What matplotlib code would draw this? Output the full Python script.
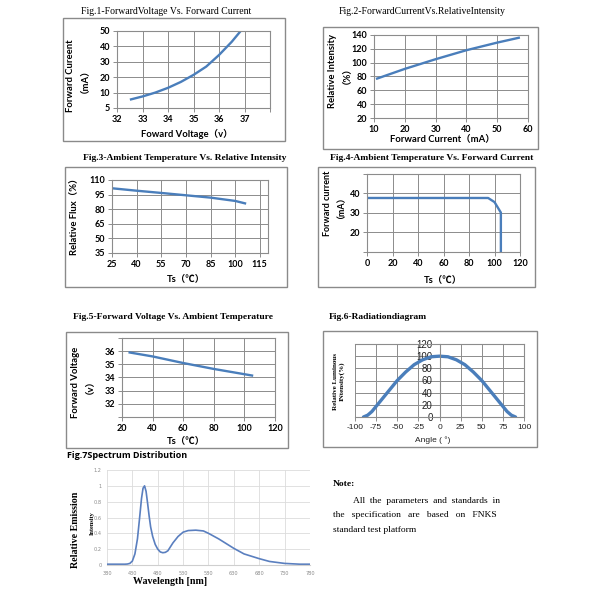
import matplotlib
matplotlib.use("Agg")
import matplotlib.pyplot as plt
from matplotlib.patches import Rectangle

# ---------------- data ----------------
fig1_voltage = [32.55, 33.0, 33.5, 34.0, 34.5, 35.0, 35.5, 36.0, 36.5, 36.85]
fig1_current = [5.6, 7.5, 10.0, 13.1, 16.9, 21.5, 26.9, 34.4, 43.0, 50.0]
fig1_xticks = [32, 33, 34, 35, 36, 37, 38]
fig1_xlabels = ["32", "33", "34", "35", "36", "37", ""]
fig1_yticks = [0, 10, 20, 30, 40, 50]
fig1_ylabels = ["5", "10", "20", "30", "40", "50"]

fig2_current = [11, 20, 30, 40, 50, 57]
fig2_intensity = [77, 91, 105, 118, 129, 136]
fig2_xticks = [10, 20, 30, 40, 50, 60]
fig2_yticks = [20, 40, 60, 80, 100, 120, 140]

fig3_temp = [25, 40, 55, 70, 85, 100, 106]
fig3_flux = [101.5, 99.0, 96.7, 94.3, 91.9, 88.5, 86.0]
fig3_xticks = [25, 40, 55, 70, 85, 100, 115]
fig3_yticks = [35, 50, 65, 80, 95, 110]

fig4_temp = [0, 95, 100, 105, 105]
fig4_current = [37.7, 37.7, 35.6, 30.2, 10.0]
fig4_xticks = [0, 20, 40, 60, 80, 100, 120]
fig4_yticks = [10, 20, 30, 40, 50]
fig4_ylabels = ["", "20", "30", "40", ""]

fig5_temp = [25, 40, 60, 80, 100, 105]
fig5_voltage = [35.9, 35.6, 35.1, 34.65, 34.25, 34.15]
fig5_xticks = [20, 40, 60, 80, 100, 120]
fig5_yticks = [31, 32, 33, 34, 35, 36, 37]
fig5_ylabels = ["", "32", "33", "34", "35", "36", ""]

fig6_angle = [-90, -85, -80, -70, -60, -50, -40, -30, -20, -10, 0,
              10, 20, 30, 40, 50, 60, 70, 80, 85, 90]
fig6_intensity = [0, 3, 9, 26, 43, 60, 74, 86, 94, 99, 100,
                  99, 94, 86, 74, 60, 43, 26, 9, 3, 0]
fig6_xticks = [-100, -75, -50, -25, 0, 25, 50, 75, 100]
fig6_yticks = [0, 20, 40, 60, 80, 100, 120]

fig7_wavelength = [380, 400, 415, 420, 425, 430, 435, 440, 444, 448, 451, 454, 457,
                   460, 463, 466, 470, 475, 480, 485, 490, 495, 500, 510, 520, 530,
                   540, 555, 570, 580, 600, 620, 630, 650, 680, 700, 730, 760, 780]
fig7_emission = [0.01, 0.01, 0.01, 0.012, 0.02, 0.05, 0.14, 0.33, 0.58, 0.84, 0.97, 1.0, 0.93,
                 0.78, 0.62, 0.48, 0.36, 0.26, 0.2, 0.165, 0.155, 0.16, 0.18, 0.28, 0.36, 0.415,
                 0.435, 0.44, 0.43, 0.40, 0.33, 0.25, 0.21, 0.14, 0.08, 0.045, 0.02, 0.01, 0.01]
fig7_xticks = [380, 430, 480, 530, 580, 630, 680, 730, 780]
fig7_yticks = [0, 0.2, 0.4, 0.6, 0.8, 1.0, 1.2]
fig7_ylabels = ["0", "0.2", "0.4", "0.6", "0.8", "1", "1.2"]

titles = ["Fig.1-ForwardVoltage Vs. Forward Current",
          "Fig.2-ForwardCurrentVs.RelativeIntensity",
          "Fig.3-Ambient Temperature Vs. Relative Intensity",
          "Fig.4-Ambient Temperature Vs. Forward Current",
          "Fig.5-Forward Voltage Vs. Ambient Temperature",
          "Fig.6-Radiationdiagram",
          "Fig.7Spectrum Distribution"]

# ---------------- style ----------------
W = H = 600
LINE = "#4a7ebb"
GRID = "#8c8c8c"
SANS = ["Lato", "Noto Sans CJK SC", "DejaVu Sans"]
SERIF = ["Liberation Serif", "DejaVu Serif"]
ARIAL = ["Liberation Sans", "DejaVu Sans"]

fig = plt.figure(figsize=(6, 6), dpi=100)
fig.patch.set_facecolor("white")


def fx(x):
    return x / W


def fy(y):
    return 1 - y / H


def add_ax(l, t, r, b):
    return fig.add_axes([fx(l), fy(b), (r - l) / W, (b - t) / H])


def frame(l, t, r, b):
    fig.add_artist(Rectangle((fx(l), fy(b)), (r - l) / W, (b - t) / H,
                             transform=fig.transFigure, fill=False,
                             edgecolor="#8a8a8a", lw=1.0))


def txt(x, y, s, **kw):
    fig.text(fx(x), fy(y), s, **kw)


def excel_axes(ax, xlim, ylim, xticks, yticks, xlabels=None, ylabels=None,
               fs=6.5, yfs=None, weight="bold", family=SANS, color="black", pad=2):
    yfs = fs if yfs is None else yfs
    ax.set_xlim(*xlim)
    ax.set_ylim(*ylim)
    ax.grid(True, color=GRID, lw=0.7)
    ax.set_axisbelow(True)
    for sp in ax.spines.values():
        sp.set_color(GRID)
        sp.set_linewidth(0.8)
    ax.tick_params(direction="out", length=3, width=0.7, color=GRID, pad=pad,
                   labelcolor=color)
    ax.tick_params(axis="x", labelsize=fs)
    ax.tick_params(axis="y", labelsize=yfs)
    ax.set_xticks(xticks)
    ax.set_yticks(yticks)
    ax.set_xticklabels(xlabels if xlabels is not None else [str(v) for v in xticks],
                       fontweight=weight, family=family, fontsize=fs, color=color)
    ax.set_yticklabels(ylabels if ylabels is not None else [str(v) for v in yticks],
                       fontweight=weight, family=family, fontsize=yfs, color=color)
    ax.patch.set_alpha(0)


# ---------------- Fig 1 ----------------
frame(63, 18, 285, 141)
txt(166, 11, titles[0], ha="center", va="center", family=SERIF, fontsize=7)
ax1 = add_ax(117, 31, 270, 108)
excel_axes(ax1, (32, 38), (0, 50), fig1_xticks, fig1_yticks, fig1_xlabels, fig1_ylabels)
ax1.plot(fig1_voltage, fig1_current, color=LINE, lw=1.7)
txt(75, 76, "Forward Cureent\n（mA）", rotation=90, ha="center", va="center",
    family=SANS, fontweight="bold", fontsize=6.8, linespacing=1.1)
txt(187, 134, "Foward Voltage（v）", ha="center", va="center",
    family=SANS, fontweight="bold", fontsize=6.8)

# ---------------- Fig 2 ----------------
frame(323, 27, 538, 149)
txt(422, 11, titles[1], ha="center", va="center", family=SERIF, fontsize=7)
ax2 = add_ax(374, 35, 528, 118)
excel_axes(ax2, (10, 60), (20, 140), fig2_xticks, fig2_yticks)
ax2.plot(fig2_current, fig2_intensity, color=LINE, lw=1.7)
txt(337, 71, "Relative Intensity\n（%）", rotation=90, ha="center", va="center",
    family=SANS, fontweight="bold", fontsize=6.8, linespacing=1.1)
txt(442, 140, "Forward Current（mA）", ha="center", va="center",
    family=SANS, fontweight="bold", fontsize=6.8)

# ---------------- Fig 3 ----------------
frame(65, 167, 287, 287)
txt(185, 158, titles[2], ha="center", va="center", family=SERIF,
    fontweight="bold", fontsize=6.8)
ax3 = add_ax(112, 180, 268, 253)
excel_axes(ax3, (25, 120), (35, 110), fig3_xticks, fig3_yticks)
ax3.plot(fig3_temp, fig3_flux, color=LINE, lw=1.7)
txt(75, 214, "Relative Flux（%）", rotation=90, ha="center", va="center",
    family=SANS, fontweight="bold", fontsize=6.8)
txt(186, 280, "Ts（℃）", ha="center", va="center",
    family=SANS, fontweight="bold", fontsize=6.8)

# ---------------- Fig 4 ----------------
frame(318, 167, 535, 287)
txt(432, 158, titles[3], ha="center", va="center", family=SERIF,
    fontweight="bold", fontsize=6.8)
ax4 = add_ax(367, 174, 520, 252)
excel_axes(ax4, (0, 120), (10, 50), fig4_xticks, fig4_yticks, None, fig4_ylabels)
ax4.plot(fig4_temp, fig4_current, color=LINE, lw=1.7)
txt(332, 203, "Forward current\n（mA）", rotation=90, ha="center", va="center",
    family=SANS, fontweight="bold", fontsize=6.5, linespacing=1.1)
txt(443, 281, "Ts（℃）", ha="center", va="center",
    family=SANS, fontweight="bold", fontsize=6.8)

# ---------------- Fig 5 ----------------
frame(66, 332, 288, 448)
txt(173, 317, titles[4], ha="center", va="center", family=SERIF,
    fontweight="bold", fontsize=6.8)
ax5 = add_ax(122, 338, 275, 417)
excel_axes(ax5, (20, 120), (31, 37), fig5_xticks, fig5_yticks, None, fig5_ylabels)
ax5.plot(fig5_temp, fig5_voltage, color=LINE, lw=1.7)
txt(80, 382, "Forward Voltage\n（v）", rotation=90, ha="center", va="center",
    family=SANS, fontweight="bold", fontsize=6.8, linespacing=1.1)
txt(186, 442, "Ts（℃）", ha="center", va="center",
    family=SANS, fontweight="bold", fontsize=6.8)

# ---------------- Fig 6 ----------------
frame(323, 331, 537, 447)
txt(329, 317, titles[5], ha="left", va="center", family=SERIF,
    fontweight="bold", fontsize=6.8)
ax6 = add_ax(355, 344, 524, 417)
ax6.spines["left"].set_position(("data", 0))
excel_axes(ax6, (-100, 100), (0, 120), fig6_xticks, fig6_yticks,
           fs=6.0, yfs=7.0, weight="normal", family=ARIAL,
           color="#222222", pad=2)
ax6.plot(fig6_angle, fig6_intensity, color=LINE, lw=2.4, solid_capstyle="round")
txt(339, 381, "Relative Luminous\nINtensity(%)", rotation=90, ha="center",
    va="center", family=SERIF, fontweight="bold", fontsize=5.0, linespacing=1.2)
txt(433, 440, "Angle ( °)", ha="center", va="center",
    family=ARIAL, fontsize=6.0, color="#222222")

# ---------------- Fig 7 ----------------
txt(67, 456, titles[6], ha="left", va="center", family=["Open Sans", "DejaVu Sans"],
    fontweight="bold", fontsize=6.5)
ax7 = add_ax(107, 470, 310, 565)
ax7.set_xlim(380, 780)
ax7.set_ylim(0, 1.2)
ax7.tick_params(length=0, pad=4, labelsize=3.6, labelcolor="#8a8a8a")
ax7.set_xticks(fig7_xticks)
ax7.set_yticks(fig7_yticks)
ax7.set_xticklabels([str(v) for v in fig7_xticks])
ax7.set_yticklabels(fig7_ylabels)
ax7.grid(True, color="#dcdcdc", lw=0.6)
for sp in ax7.spines.values():
    sp.set_visible(False)
ax7.spines["bottom"].set_visible(True)
ax7.spines["bottom"].set_color("#cfcfcf")
ax7.plot(fig7_wavelength, fig7_emission, color="#5a7fbf", lw=1.2)
txt(75, 530, "Relative Emission", rotation=90, ha="center", va="center",
    family=SERIF, fontweight="bold", fontsize=7.2)
txt(92, 523, "Intensity", rotation=90, ha="center", va="center",
    family=SERIF, fontweight="bold", fontsize=4.5)
txt(170, 582, "Wavelength [nm]", ha="center", va="center",
    family=SERIF, fontweight="bold", fontsize=7.2)

# ---------------- Note ----------------
txt(333, 484, "Note:", ha="left", va="center", family=SERIF,
    fontweight="bold", fontsize=6.8)
txt(353, 501, "All  the  parameters  and  standards  in", ha="left", va="center",
    family=SERIF, fontsize=6.8)
txt(333, 515, "the   specification   are   based   on   FNKS", ha="left",
    va="center", family=SERIF, fontsize=6.8)
txt(333, 530, "standard test platform", ha="left", va="center",
    family=SERIF, fontsize=6.8)

fig.savefig("out.png", dpi=100, facecolor="white")
